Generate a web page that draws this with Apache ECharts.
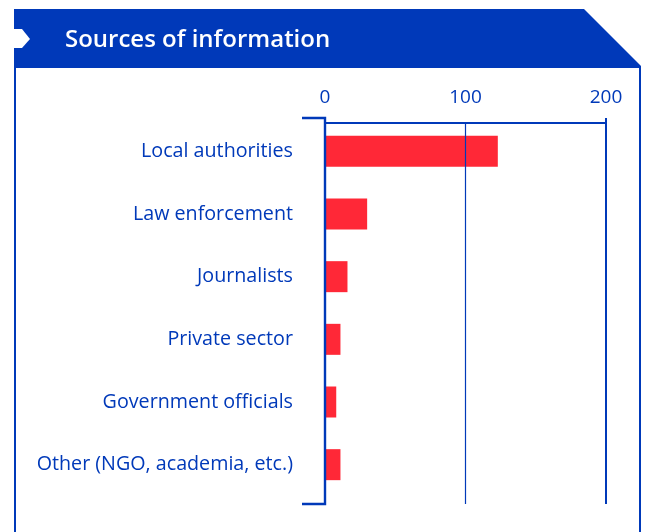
<!DOCTYPE html>
<html>
<head>
<meta charset="utf-8">
<script src="https://cdn.jsdelivr.net/npm/echarts@6/dist/echarts.min.js"></script>
<style>
  html, body { margin: 0; padding: 0; background: #ffffff; }
  #chart { width: 648px; height: 532px; }
</style>
</head>
<body>
<div id="chart"></div>
<script>
// Sources of information: number of reports by source
const categories = [
  'Local authorities',
  'Law enforcement',
  'Journalists',
  'Private sector',
  'Government officials',
  'Other (NGO, academia, etc.)'
];
const values = [123, 30, 16, 11, 8, 11];
const xTicks = [0, 100, 200];
const title = 'Sources of information';

const BLUE = '#0039b9';
const RED = '#ff2837';
const FONT = '"Open Sans", "Noto Sans", sans-serif';

const chart = echarts.init(document.getElementById('chart'), null, { renderer: 'canvas' });

const GRID = { left: 325, top: 120, width: 281, height: 376 };

chart.setOption({
  animation: false,
  backgroundColor: '#ffffff',
  grid: GRID,
  xAxis: {
    type: 'value',
    position: 'top',
    min: xTicks[0],
    max: xTicks[xTicks.length - 1],
    interval: xTicks[1] - xTicks[0],
    offset: -3,
    axisLine: { show: true, lineStyle: { color: BLUE, width: 2 } },
    axisTick: { show: true, customValues: [xTicks[0], xTicks[xTicks.length - 1]], length: 5, inside: false, lineStyle: { color: BLUE, width: 2 } },
    axisLabel: { color: BLUE, fontSize: 19, fontFamily: FONT, margin: 16 },
    splitLine: { show: false }
  },
  yAxis: {
    type: 'category',
    inverse: true,
    data: categories,
    axisLine: { show: false },
    axisTick: { show: false },
    axisLabel: { color: BLUE, fontSize: 19.7, fontFamily: FONT, margin: 32 }
  },
  series: [{
    type: 'bar',
    data: values,
    barWidth: 31,
    itemStyle: { color: RED },
    silent: true
  }]
});

// Frame, banner and axis brackets, placed from the axis scale
const x0 = chart.convertToPixel({ xAxisIndex: 0 }, xTicks[0]);
const xMid = chart.convertToPixel({ xAxisIndex: 0 }, xTicks[1]);
const xMax = chart.convertToPixel({ xAxisIndex: 0 }, xTicks[2]);
const axisY = GRID.top + 3;
const topY = axisY - 5;
const botY = GRID.top + GRID.height + 8;

chart.setOption({
  graphic: [
    { type: 'rect', shape: { x: 15, y: 67, width: 625, height: 520 }, style: { fill: 'none', stroke: BLUE, lineWidth: 2 }, z: 1 },
    { type: 'polygon', shape: { points: [[14, 9], [584, 9], [641, 66], [14, 66]] }, style: { fill: BLUE }, z: 2 },
    { type: 'polygon', shape: { points: [[14, 29], [22, 29], [30, 39], [22, 48], [14, 48]] }, style: { fill: '#ffffff' }, z: 3 },
    { type: 'text', x: 65, y: 40, style: { text: title, fill: '#ffffff', font: '600 24px ' + FONT, textVerticalAlign: 'middle' }, z: 3 },
    { type: 'polyline', shape: { points: [[x0 - 23, topY], [x0, topY], [x0, botY], [x0 - 23, botY]] }, style: { stroke: BLUE, lineWidth: 2.4, fill: 'none' }, z: 5 },
    { type: 'line', shape: { x1: xMid, y1: axisY, x2: xMid, y2: botY }, style: { stroke: BLUE, lineWidth: 1.2 }, z: 5 },
    { type: 'line', shape: { x1: xMax, y1: topY, x2: xMax, y2: botY }, style: { stroke: BLUE, lineWidth: 2 }, z: 5 }
  ]
});
</script>
</body>
</html>
